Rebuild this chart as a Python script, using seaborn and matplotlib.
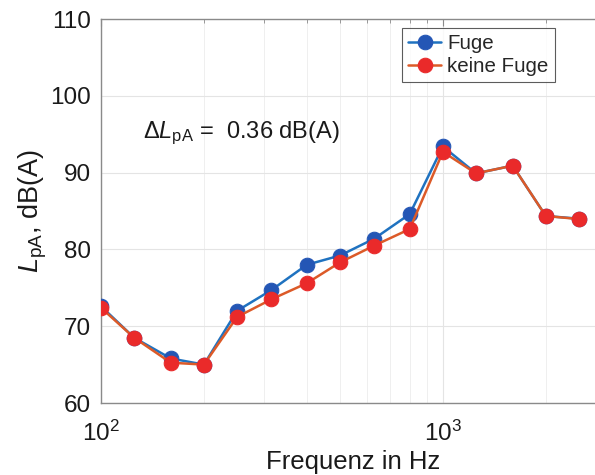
import matplotlib
matplotlib.use("Agg")
import matplotlib.pyplot as plt
import matplotlib.ticker as mticker
import numpy as np
import pandas as pd
import seaborn as sns

# Terzband-Mittenfrequenzen und A-bewertete Schalldruckpegel
freq_hz = [100, 125, 160, 200, 250, 315, 400, 500, 630, 800, 1000, 1250, 1600, 2000, 2500]
lpa_fuge = [72.6, 68.5, 65.8, 65.0, 72.0, 74.7, 78.0, 79.2, 81.4, 84.6, 93.4, 89.9, 90.9, 84.35, 84.0]
lpa_keine_fuge = [72.4, 68.5, 65.25, 65.0, 71.2, 73.5, 75.6, 78.3, 80.5, 82.65, 92.7, 89.9, 90.9, 84.35, 83.95]
series_names = ["Fuge", "keine Fuge"]
delta_text = r"$\Delta L_{\mathrm{pA}}$ =  0.36 dB(A)"

sns.set_style("white")
plt.rcParams["font.family"] = ["Liberation Sans", "DejaVu Sans"]
plt.rcParams["mathtext.fontset"] = "custom"
plt.rcParams["mathtext.rm"] = "Liberation Sans"
plt.rcParams["mathtext.it"] = "Liberation Sans:italic"
plt.rcParams["mathtext.bf"] = "Liberation Sans:bold"

df = pd.DataFrame({
    "f": freq_hz * 2,
    "L": lpa_fuge + lpa_keine_fuge,
    "Serie": [series_names[0]] * len(freq_hz) + [series_names[1]] * len(freq_hz),
})

fig = plt.figure(figsize=(5.95, 4.75), dpi=100)
ax = fig.add_axes([101 / 595, 72 / 475, (606 - 101) / 595, 384 / 475])

line_cols = {"Fuge": "#1f72c0", "keine Fuge": "#dc5a28"}
marker_cols = {"Fuge": "#2456b5", "keine Fuge": "#ea2a2a"}

for name in series_names:
    sub = df[df["Serie"] == name]
    sns.lineplot(data=sub, x="f", y="L", ax=ax, color=line_cols[name], lw=1.8,
                 marker="o", markersize=10.5, markerfacecolor=marker_cols[name],
                 markeredgecolor=marker_cols[name], label=name, zorder=3)

ax.set_xscale("log")
ax.set_xlim(100, 3000)
ax.set_ylim(60, 110)
ax.set_yticks(np.arange(60, 111, 10))
ax.xaxis.set_major_locator(mticker.FixedLocator([100, 1000]))
ax.xaxis.set_major_formatter(mticker.FixedFormatter([r"$10^2$", r"$10^3$"]))
ax.xaxis.set_minor_locator(mticker.LogLocator(base=10, subs=np.arange(2, 10)))
ax.xaxis.set_minor_formatter(mticker.NullFormatter())

ax.grid(True, which="major", color="#e4e4e4", lw=0.8)
ax.grid(True, which="minor", axis="x", color="#efefef", lw=0.7)
ax.set_axisbelow(True)

for side in ["left", "bottom", "top", "right"]:
    ax.spines[side].set_color("#8a8a8a")
    ax.spines[side].set_linewidth(1.0)

ax.tick_params(axis="both", which="both", direction="in", colors="#8a8a8a",
               labelcolor="#1a1a1a", labelsize=17.5, top=True, right=False)
ax.tick_params(which="major", length=5)
ax.tick_params(which="minor", length=3)
ax.tick_params(axis="x", pad=13)
ax.tick_params(axis="y", pad=7)

ax.set_xlabel("Frequenz in Hz", fontsize=18.5, color="#1a1a1a", labelpad=3)
ax.set_ylabel(r"$L_{\mathrm{pA}}$, dB(A)", fontsize=19.5, color="#1a1a1a", labelpad=1)

ax.text(133, 94.5, delta_text, fontsize=17, color="#1a1a1a", va="baseline")

leg = ax.legend(loc="upper left", bbox_to_anchor=((402 - 101) / 505, 1 - 9 / 384),
                fontsize=14.8, frameon=True, fancybox=False, borderpad=0.3,
                handlelength=1.6, handletextpad=0.3, labelspacing=0.2,
                borderaxespad=0)
leg.get_frame().set_edgecolor("#333333")
leg.get_frame().set_linewidth(0.8)

fig.savefig("out.png", dpi=100)
